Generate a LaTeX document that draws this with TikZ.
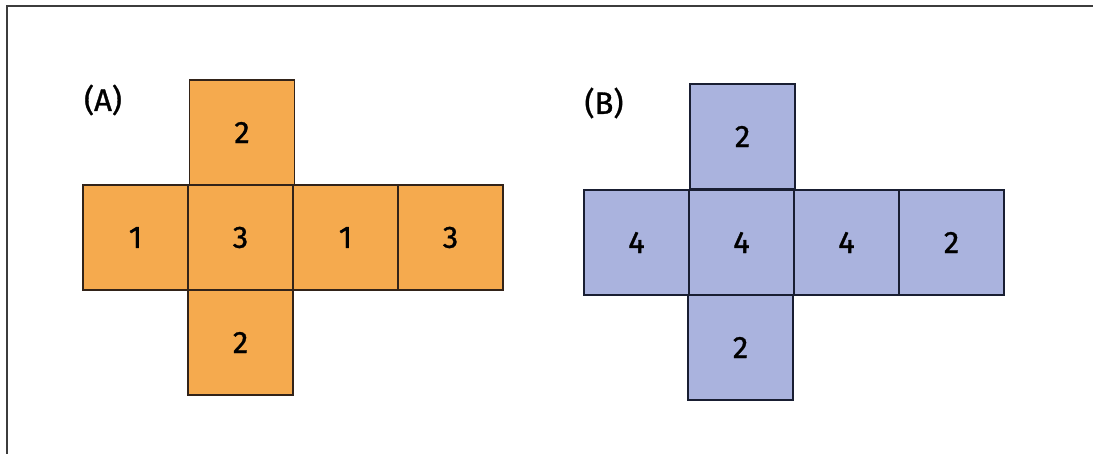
\documentclass[tikz,border=0pt]{standalone}
\usepackage{fontspec}
\setmainfont{Fira Sans}[FakeBold=1.0]
\definecolor{orfill}{RGB}{245,170,78}
\definecolor{orline}{RGB}{50,35,25}
\definecolor{blfill}{RGB}{170,179,222}
\definecolor{blline}{RGB}{25,30,50}
\definecolor{frame}{RGB}{60,60,60}
\begin{document}
\begin{tikzpicture}[x=1pt,y=-1pt,
  facea/.style={draw=orline,fill=orfill,line width=1.5pt,minimum size=105pt,inner sep=0pt,outer sep=0pt,font=\fontsize{31}{32}\selectfont},
  faceb/.style={draw=blline,fill=blfill,line width=1.5pt,minimum size=105pt,inner sep=0pt,outer sep=0pt,font=\fontsize{31}{32}\selectfont},
  lbl/.style={inner sep=0pt,font=\fontsize{31}{32}\selectfont}]
\useasboundingbox (0,0) rectangle (1093,454);
\fill[white] (0,0) rectangle (1093,454);
\draw[frame,line width=2.4pt] (7,454) -- (7,6) -- (1093,6);
% A
\node[lbl] (la) at (103,100) {(A)};
\node[facea] (a1) at (135.5,237.5) {1};
\node[facea] (a3) at (240.5,237.5) {3};
\node[facea] (a1b) at (345.5,237.5) {1};
\node[facea] (a3b) at (450.5,237.5) {3};
\node[facea] (a2t) at (242,132.5) {2};
\node[facea] (a2b) at (240.5,342.5) {2};
% B
\node[lbl] (lb) at (604,103) {(B)};
\node[faceb] (b4a) at (636.5,242.5) {4};
\node[faceb] (b4b) at (741.5,242.5) {4};
\node[faceb] (b4c) at (846.5,242.5) {4};
\node[faceb] (b2r) at (951.5,242.5) {2};
\node[faceb] (b2t) at (742.5,136.5) {2};
\node[faceb] (b2b) at (740.5,347.5) {2};
\end{tikzpicture}
\end{document}
